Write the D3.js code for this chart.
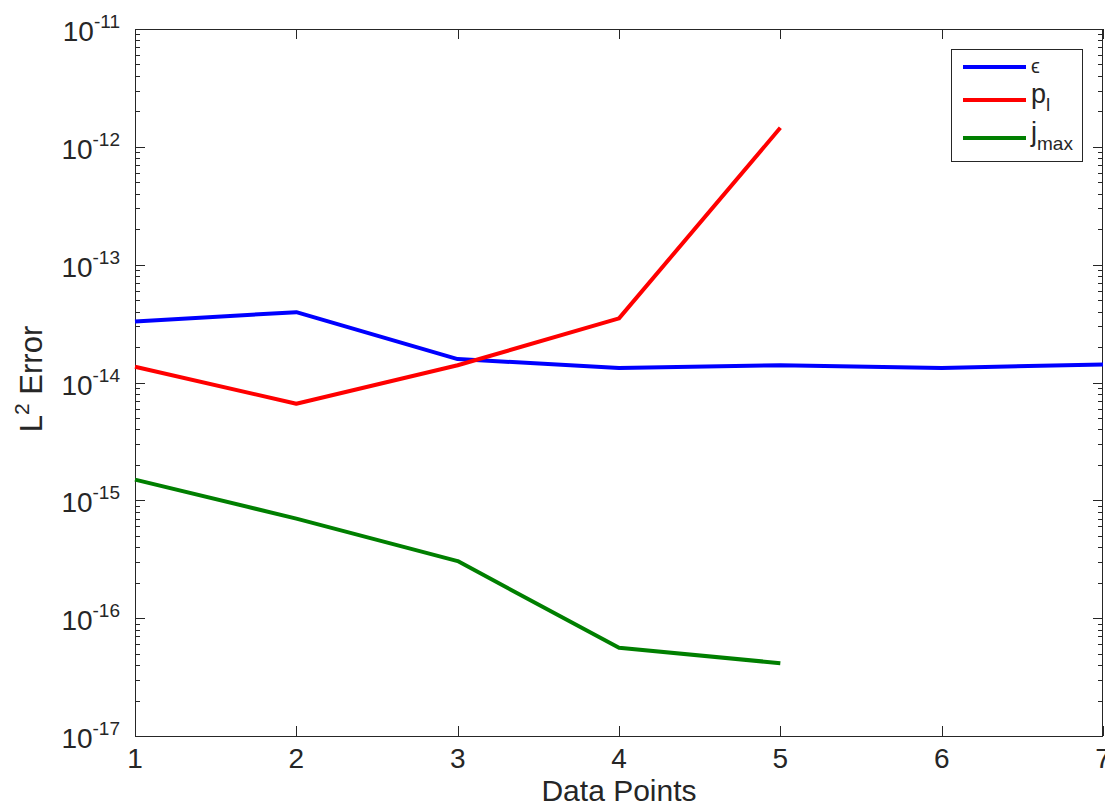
<!DOCTYPE html>
<html>
<head>
<meta charset="utf-8">
<script src="https://cdn.jsdelivr.net/npm/d3@7"></script>
<style>
  body { margin: 0; background: #fff; }
  text { font-family: "Liberation Sans", Arial, Helvetica, sans-serif; fill: #262626; }
</style>
</head>
<body>
<div id="chart"></div>
<script>
// data
var dataPoints = [1, 2, 3, 4, 5, 6, 7];
var epsErr  = [3.3e-14, 3.95e-14, 1.58e-14, 1.33e-14, 1.4e-14, 1.33e-14, 1.42e-14];
var plErr   = [1.36e-14, 6.6e-15, 1.4e-14, 3.5e-14, 1.45e-12];
var jmaxErr = [1.5e-15, 7.0e-16, 3.05e-16, 5.6e-17, 4.15e-17];
var yDecades = [-17, -16, -15, -14, -13, -12, -11];
var xTicks = [1, 2, 3, 4, 5, 6, 7];

var W = 1105, H = 809;
var m = { left: 135, right: 1103, top: 29, bottom: 736 };

var svg = d3.select("#chart").append("svg")
    .attr("width", W)
    .attr("height", H);

var x = d3.scaleLinear().domain([1, 7]).range([m.left, m.right]);
var y = d3.scaleLog().domain([1e-17, 1e-11]).range([m.bottom, m.top]);

var axisCol = "#262626";

// minor + major ticks on all four sides, pointing inward
var minor = [];
yDecades.slice(0, -1).forEach(function (d) {
    for (var k = 2; k <= 9; k++) minor.push(k * Math.pow(10, d));
});
var tg = svg.append("g").attr("stroke", axisCol).attr("stroke-width", 1);
minor.forEach(function (v) {
    var yy = Math.round(y(v)) + 0.5;
    tg.append("line").attr("x1", m.left).attr("x2", m.left + 5).attr("y1", yy).attr("y2", yy);
    tg.append("line").attr("x1", m.right).attr("x2", m.right - 5).attr("y1", yy).attr("y2", yy);
});
yDecades.forEach(function (d) {
    var yy = Math.round(y(Math.pow(10, d))) + 0.5;
    tg.append("line").attr("x1", m.left).attr("x2", m.left + 10).attr("y1", yy).attr("y2", yy);
    tg.append("line").attr("x1", m.right).attr("x2", m.right - 10).attr("y1", yy).attr("y2", yy);
});
xTicks.forEach(function (t) {
    var xx = Math.round(x(t)) + 0.5;
    tg.append("line").attr("x1", xx).attr("x2", xx).attr("y1", m.bottom).attr("y2", m.bottom - 10);
    tg.append("line").attr("x1", xx).attr("x2", xx).attr("y1", m.top).attr("y2", m.top + 10);
});

// box
svg.append("rect")
    .attr("x", m.left + 0.5).attr("y", m.top + 0.5)
    .attr("width", m.right - m.left - 1).attr("height", m.bottom - m.top)
    .attr("fill", "none").attr("stroke", axisCol).attr("stroke-width", 1);

// y tick labels: 10^n
yDecades.forEach(function (d) {
    var t = svg.append("text")
        .attr("x", m.left - 15)
        .attr("y", y(Math.pow(10, d)) + 12)
        .attr("text-anchor", "end")
        .style("font-size", "28px");
    t.append("tspan").text("10");
    t.append("tspan").attr("dy", -13).style("font-size", "19px").text(d);
});

// x tick labels
xTicks.forEach(function (t) {
    svg.append("text")
        .attr("x", x(t))
        .attr("y", 768)
        .attr("text-anchor", "middle")
        .style("font-size", "28px")
        .text(t);
});

// axis titles
svg.append("text")
    .attr("x", (m.left + m.right) / 2)
    .attr("y", 801)
    .attr("text-anchor", "middle")
    .style("font-size", "30px")
    .text("Data Points");

var yl = svg.append("text")
    .attr("transform", "translate(42," + 379 + ") rotate(-90)")
    .attr("text-anchor", "middle")
    .style("font-size", "31px");
yl.append("tspan").text("L");
yl.append("tspan").attr("dy", -13).style("font-size", "21px").text("2");
yl.append("tspan").attr("dy", 13).text(" Error");

// lines
var line = d3.line()
    .x(function (d, i) { return x(dataPoints[i]); })
    .y(function (d) { return y(d); });

var series = [
    { name: "eps", values: epsErr, color: "#0000ff" },
    { name: "pl", values: plErr, color: "#ff0000" },
    { name: "jmax", values: jmaxErr, color: "#007f00" }
];

series.forEach(function (s) {
    svg.append("path")
        .datum(s.values)
        .attr("d", line)
        .attr("fill", "none")
        .attr("stroke", s.color)
        .attr("stroke-width", 4)
        .attr("stroke-linejoin", "round");
});

// legend
var lg = svg.append("g");
lg.append("rect")
    .attr("x", 951.5).attr("y", 49.5)
    .attr("width", 131).attr("height", 112)
    .attr("fill", "#fff").attr("stroke", axisCol).attr("stroke-width", 1);

var legY = [67, 100, 138];
series.forEach(function (s, i) {
    lg.append("line")
        .attr("x1", 963).attr("x2", 1026)
        .attr("y1", legY[i]).attr("y2", legY[i])
        .attr("stroke", s.color).attr("stroke-width", 4);
});

lg.append("text").attr("x", 1031).attr("y", legY[0] + 6)
    .style("font-size", "20px").text("\u03f5");

var t1 = lg.append("text").attr("x", 1031).attr("y", legY[1] + 3).style("font-size", "27px");
t1.append("tspan").text("p");
t1.append("tspan").attr("dy", 8).style("font-size", "19px").text("l");

var t2 = lg.append("text").attr("x", 1031).attr("y", legY[2] + 3).style("font-size", "27px");
t2.append("tspan").text("j");
t2.append("tspan").attr("dy", 9).style("font-size", "19px").text("max");
</script>
</body>
</html>
